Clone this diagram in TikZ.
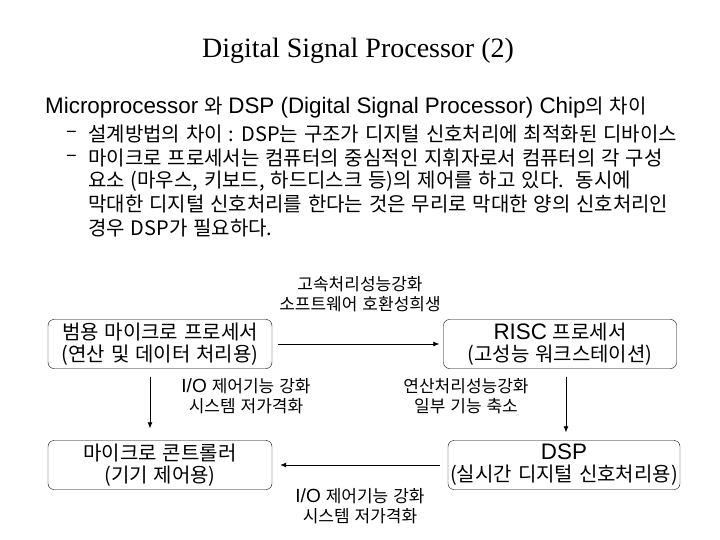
\documentclass[tikz,border=0pt]{standalone}
\usepackage{fontspec}
\setmainfont[WordSpace=1.3]{Noto Sans CJK KR}
\newfontfamily\titlefont{Liberation Serif}
\newfontfamily\latfont[Scale=1.12]{Liberation Sans}
\newcommand{\lat}[1]{{\latfont #1}}
\usetikzlibrary{arrows.meta}

\begin{document}
\begin{tikzpicture}[x=1pt, y=-1pt,
    body/.style={anchor=west, inner sep=0pt, font=\fontsize{20}{23}\selectfont},
    box/.style={draw, rounded corners=6pt, minimum height=49pt, align=center,
      inner sep=0pt, font=\fontsize{20}{22}\selectfont},
    note/.style={align=center, inner sep=0pt, font=\fontsize{17}{20}\selectfont},
    flow/.style={-{Latex[length=6pt,width=5pt]}, line width=0.8pt}]
  \useasboundingbox (0,0) rectangle (720,540);

  \node (title) at (358,51) {\titlefont\fontsize{28}{32}\selectfont Digital Signal Processor (2)};

  % text
  \node[body] (head) at (45,108) {\lat{Microprocessor} 와 \lat{DSP (Digital Signal Processor) Chip}의 차이};
  \node[body] (dasha) at (66,134) {–};
  \node[body] (linea) at (88,134) {설계방법의 차이 : DSP는 구조가 디지털 신호처리에 최적화된 디바이스};
  \node[body] (dashb) at (66,158) {–};
  \foreach \n/\y/\txt in {b/158/{마이크로 프로세서는 컴퓨터의 중심적인 지휘자로서 컴퓨터의 각 구성},
      c/181/{요소 (마우스, 키보드, 하드디스크 등)의 제어를 하고 있다.\ \ 동시에},
      d/204/{막대한 디지털 신호처리를 한다는 것은 무리로 막대한 양의 신호처리인},
      e/228/{경우 DSP가 필요하다.}}
    \node[body] (line\n) at (88,\y) {\txt};

  % diagram
  \node[box, minimum width=224pt] (gpp) at (160,344) {범용 마이크로 프로세서\\(연산 및 데이터 처리용)};
  \node[box, minimum width=233pt] (risc) at (560,344) {\lat{RISC} 프로세서\\(고성능 워크스테이션)};
  \node[box, minimum width=224pt] (mcu) at (160,465) {마이크로 콘트롤러\\(기기 제어용)};
  \node[box, minimum width=232pt] (dsp) at (564,465) {\lat{DSP}\\(실시간 디지털 신호처리용)};

  \node[note] (speed) at (360,294) {고속처리성능강화\\소프트웨어 호환성희생};
  \node[note] (ioa) at (246,396) {\lat{I/O} 제어기능 강화\\시스템 저가격화};
  \node[note] (calc) at (466,396) {연산처리성능강화\\일부 기능 축소};
  \node[note] (iob) at (360,506) {\lat{I/O} 제어기능 강화\\시스템 저가격화};

  \draw[flow] ([xshift=6pt]gpp.east) -- ([xshift=-4pt]risc.west);
  \draw[flow] ([yshift=-8pt]gpp.south -| 150,0) -- ([yshift=12pt]mcu.north -| 150,0);
  \draw[flow] ([yshift=-8pt]risc.south -| 566,0) -- ([yshift=8pt]dsp.north -| 566,0);
  \draw[flow] ([xshift=-8pt]dsp.west) -- ([xshift=8pt]mcu.east);
\end{tikzpicture}
\end{document}
